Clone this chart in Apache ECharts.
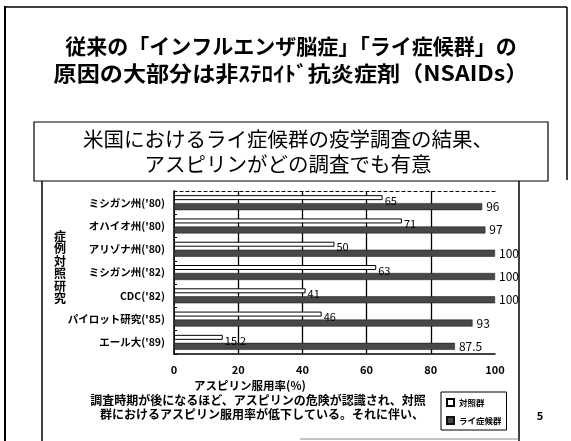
<!DOCTYPE html>
<html><head><meta charset="utf-8">
<script src="https://cdn.jsdelivr.net/npm/echarts@6/dist/echarts.min.js"></script>
<style>html,body{margin:0;padding:0;background:#fff}#c{width:571px;height:441px}</style>
</head><body><div id="c"></div>
<script>
const categories = ["ミシガン州('80)", "オハイオ州('80)", "アリゾナ州('80)", "ミシガン州('82)", "CDC('82)", "パイロット研究('85)", "エール大('89)"];
const controlValues = [65, 71, 50, 63, 41, 46, 15.2];
const reyeValues = [96, 97, 100, 100, 100, 93, 87.5];
const seriesNames = ["対照群", "ライ症候群"];
const titleLines = ["従来の「インフルエンザ脳症」「ライ症候群」の", "原因の大部分は非ｽﾃﾛｲﾄﾞ抗炎症剤（NSAIDs）"];
const subtitleLines = ["米国におけるライ症候群の疫学調査の結果、", "アスピリンがどの調査でも有意"];
const sideLabel = "症例対照研究";
const axisTitle = "アスピリン服用率(%)";
const noteLines = ["調査時期が後になるほど、アスピリンの危険が認識され、対照", "群におけるアスピリン服用率が低下している。それに伴い、"];
const pageNo = "5";

const F = '"Noto Sans CJK JP", "Noto Sans", sans-serif';
const chart = echarts.init(document.getElementById('c'), null, {renderer: 'canvas'});

const line = (x1, y1, x2, y2, w, color) => ({type: 'line', silent: true, shape: {x1, y1, x2, y2}, style: {stroke: color || '#000', lineWidth: w || 1.5}});
const txt = (x, y, t, size, opts) => Object.assign({type: 'text', x, y, silent: true, style: Object.assign({text: t, fill: '#000', font: (opts && opts.weight || 'bold') + ' ' + size + 'px ' + F, align: 'center', verticalAlign: 'middle'}, (opts && opts.style) || {})}, (opts && opts.el) || {});

chart.setOption({
  animation: false,
  backgroundColor: '#fff',
  textStyle: {fontFamily: F},
  grid: {left: 174, right: 76, top: 191, bottom: 87},
  legend: {
    data: seriesNames, orient: 'vertical', left: 441, top: 392,
    icon: 'rect', itemWidth: 7, itemHeight: 7, itemGap: 9,
    padding: [6, 5, 5, 5], borderColor: '#000', borderWidth: 1,
    textStyle: {fontSize: 8.5, fontWeight: 'bold', color: '#000', fontFamily: F}
  },
  xAxis: [{
    type: 'value', min: 0, max: 100, interval: 20,
    axisLine: {show: true, lineStyle: {color: '#000', width: 1.5}},
    axisTick: {show: false},
    axisLabel: {color: '#000', fontSize: 11, fontWeight: 'bold', margin: 10, fontFamily: F},
    splitLine: {show: true, showMinLine: false, showMaxLine: false, lineStyle: {color: '#000', width: 1.3}}
  }, {
    type: 'value', min: 0, max: 100, interval: 20, position: 'top',
    axisLine: {show: true, lineStyle: {color: '#000', width: 1, type: [3, 3]}},
    axisTick: {show: false}, axisLabel: {show: false}, splitLine: {show: false}
  }],
  yAxis: [{
    type: 'category', data: categories, inverse: true,
    axisLine: {show: true, lineStyle: {color: '#000', width: 1.5}},
    axisTick: {show: true, inside: true, length: 3, lineStyle: {color: '#000'}},
    axisLabel: {color: '#000', fontSize: 10.5, fontWeight: 'bold', margin: 9, fontFamily: F}
  }, {
    type: 'category', data: categories, inverse: true, position: 'right',
    axisLine: {show: true, lineStyle: {color: '#000', width: 1, type: [2, 2]}},
    axisTick: {show: false}, axisLabel: {show: false}
  }],
  series: [{
    name: seriesNames[0], type: 'bar', data: controlValues,
    barWidth: 5, barGap: '60%',
    itemStyle: {color: '#fff', borderColor: '#000', borderWidth: 1},
    label: {show: true, position: 'right', distance: 2, offset: [0, 3], color: '#000', fontSize: 11, fontFamily: F}
  }, {
    name: seriesNames[1], type: 'bar', data: reyeValues,
    barWidth: 7, barGap: '60%',
    itemStyle: {color: '#484848', borderColor: '#111', borderWidth: 0.5},
    label: {show: true, position: 'right', distance: 4, color: '#000', fontSize: 12, fontFamily: F}
  }],
  graphic: [
    line(5, 6, 5, 441, 2),
    line(5, 7, 567, 7, 1.5),
    line(567, 7, 567, 180, 1.5),
    line(42, 181, 42, 441, 1.5),
    line(519, 181, 519, 441, 1.5),
    line(300, 439, 519, 439, 1, '#888'),
    {type: 'rect', silent: true, shape: {x: 34, y: 122, width: 514, height: 59}, style: {fill: 'none', stroke: '#000', lineWidth: 1.2}},
    txt(291, 46, titleLines[0], 21),
    txt(291, 73, titleLines[1], 21, {el: {scaleX: 1.1}}),
    txt(288, 139, subtitleLines[0], 20.5, {weight: 'normal'}),
    txt(288, 164, subtitleLines[1], 20.5, {weight: 'normal'}),
    txt(60, 230, sideLabel.split('').join('\n'), 12, {style: {verticalAlign: 'top', lineHeight: 12.5}}),
    txt(250, 386, axisTitle, 11.5),
    txt(258, 400, noteLines[0], 12),
    txt(262, 414, noteLines[1], 12),
    txt(540, 416, pageNo, 11)
  ]
});
</script></body></html>
